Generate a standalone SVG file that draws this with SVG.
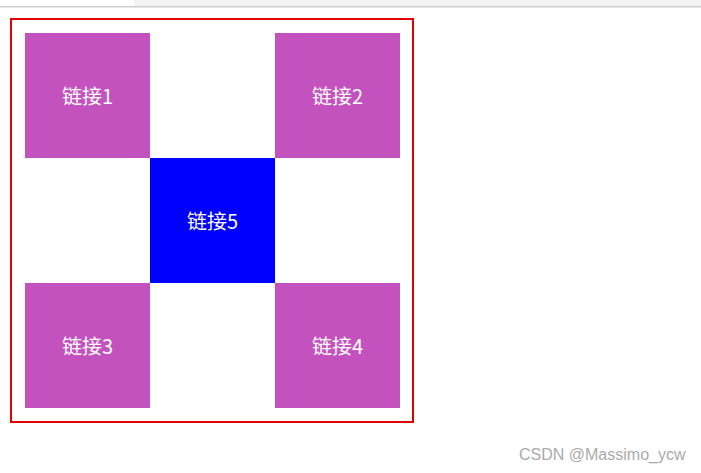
<svg xmlns="http://www.w3.org/2000/svg" width="701" height="473" viewBox="0 0 701 473">
  <style>
    .box { fill: #c452be; }
    .center { fill: #0000ff; }
    .lbl { fill: #ffffff; font-family: "Noto Sans CJK SC", "Noto Sans", sans-serif; font-size: 20px; text-anchor: middle; dominant-baseline: central; }
    .wm { fill: #aaaaaa; font-family: "Liberation Sans", Arial, sans-serif; font-size: 16px; }
  </style>
  <rect x="0" y="0" width="701" height="473" fill="#ffffff"/>
  <g id="browser-bar">
    <rect x="0" y="0" width="701" height="7" fill="#f3f3f3"/>
    <rect x="0" y="0" width="134" height="7" fill="#ffffff"/>
    <rect x="0" y="6" width="701" height="1.5" fill="#cfcfcf"/>
  </g>
  <g id="container">
    <rect x="11" y="19" width="402" height="403" fill="none" stroke="#e00000" stroke-width="2"/>
  </g>
  <g id="link1">
    <rect class="box" x="25" y="33" width="125" height="125"/>
    <text class="lbl" x="87.5" y="95">链接1</text>
  </g>
  <g id="link2">
    <rect class="box" x="275" y="33" width="125" height="125"/>
    <text class="lbl" x="337.5" y="95">链接2</text>
  </g>
  <g id="link5">
    <rect class="center" x="150" y="158" width="125" height="125"/>
    <text class="lbl" x="212.5" y="220">链接5</text>
  </g>
  <g id="link3">
    <rect class="box" x="25" y="283" width="125" height="125"/>
    <text class="lbl" x="87.5" y="345">链接3</text>
  </g>
  <g id="link4">
    <rect class="box" x="275" y="283" width="125" height="125"/>
    <text class="lbl" x="337.5" y="345">链接4</text>
  </g>
  <g id="connectors"></g>
  <text class="wm" x="519" y="460">CSDN @Massimo_ycw</text>
</svg>
